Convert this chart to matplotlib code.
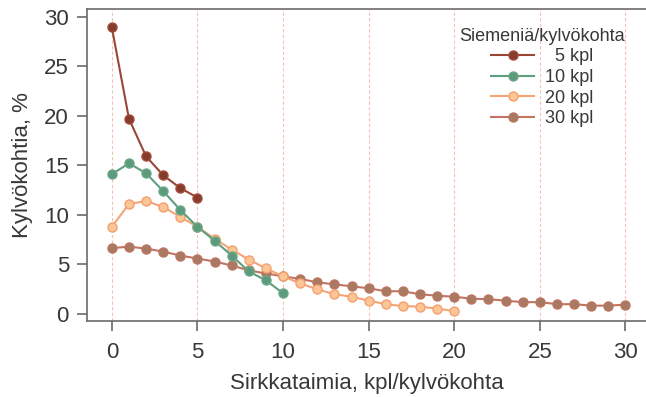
import matplotlib.pyplot as plt

plt.rcParams['font.family'] = ['Liberation Sans', 'DejaVu Sans']

# data
x5 = [0, 1, 2, 3, 4, 5]
y5 = [28.9, 19.7, 15.9, 14.0, 12.7, 11.75]

x10 = list(range(0, 11))
y10 = [14.1, 15.2, 14.2, 12.4, 10.5, 8.8, 7.4, 5.9, 4.3, 3.4, 2.1]

x20 = list(range(0, 21))
y20 = [8.8, 11.1, 11.4, 10.8, 9.8, 8.8, 7.6, 6.5, 5.5, 4.6, 3.8,
       3.1, 2.5, 2.0, 1.75, 1.35, 1.0, 0.8, 0.75, 0.55, 0.3]

x30 = list(range(0, 31))
y30 = [6.65, 6.8, 6.6, 6.3, 5.9, 5.6, 5.3, 4.9, 4.4, 4.1, 3.8,
       3.55, 3.2, 3.0, 2.8, 2.6, 2.3, 2.3, 2.0, 1.85, 1.75,
       1.55, 1.5, 1.35, 1.2, 1.2, 1.0, 1.0, 0.85, 0.85, 0.95]

labels = ['  5 kpl', '10 kpl', '20 kpl', '30 kpl']
xticks = [0, 5, 10, 15, 20, 25, 30]
yticks = [0, 5, 10, 15, 20, 25, 30]

series = [
    (x30, y30, '#c27463', '#a97a63', '#bd7560'),
    (x20, y20, '#f5a474', '#fcc596', '#f4a070'),
    (x10, y10, '#5f9f80', '#5b9a7b', '#6aa888'),
    (x5, y5, '#9a4636', '#853c2d', '#a44a3a'),
]

fig = plt.figure(figsize=(6.46, 3.97), dpi=100)
ax = fig.add_axes([0.1347, 0.1914, 0.8653, 0.7856])

for xs in xticks:
    ax.axvline(xs, color='#f2c4b6', lw=0.8, ls=(0, (3, 2)), zorder=0)

handles = []
for (xs, ys, lc, fc, ec) in series:
    h, = ax.plot(xs, ys, color=lc, lw=1.5, marker='o', ms=6.5,
                 mfc=fc, mec=ec, mew=1.0)
    handles.append(h)
handles = handles[::-1]

ax.set_xlim(-1.45, 31.2)
ax.set_ylim(-0.7, 30.75)
ax.set_xticks(xticks)
ax.set_yticks(yticks)

for s in ['left', 'bottom', 'top']:
    ax.spines[s].set_color('#6b6b6b')
    ax.spines[s].set_linewidth(1.2)
ax.spines['right'].set_visible(False)
ax.tick_params(direction='out', length=7, width=1.2, color='#6b6b6b',
               labelsize=16, labelcolor='#383838')
ax.tick_params(axis='x', pad=8)
ax.tick_params(axis='y', pad=6)

ax.set_xlabel('Sirkkataimia, kpl/kylvökohta', fontsize=16, color='#383838', labelpad=7)
ax.set_ylabel('Kylvökohtia, %', fontsize=16, color='#383838', labelpad=8)

leg = ax.legend(handles, labels, title='Siemeniä/kylvökohta', loc='upper right',
                bbox_to_anchor=(0.982, 0.975), frameon=False, fontsize=13,
                title_fontsize=13, handlelength=2.4, labelspacing=0.2,
                handletextpad=0.6, borderaxespad=0.2)
for t in leg.get_texts():
    t.set_color('#383838')
leg.get_title().set_color('#383838')

fig.savefig('out.png', dpi=100)
